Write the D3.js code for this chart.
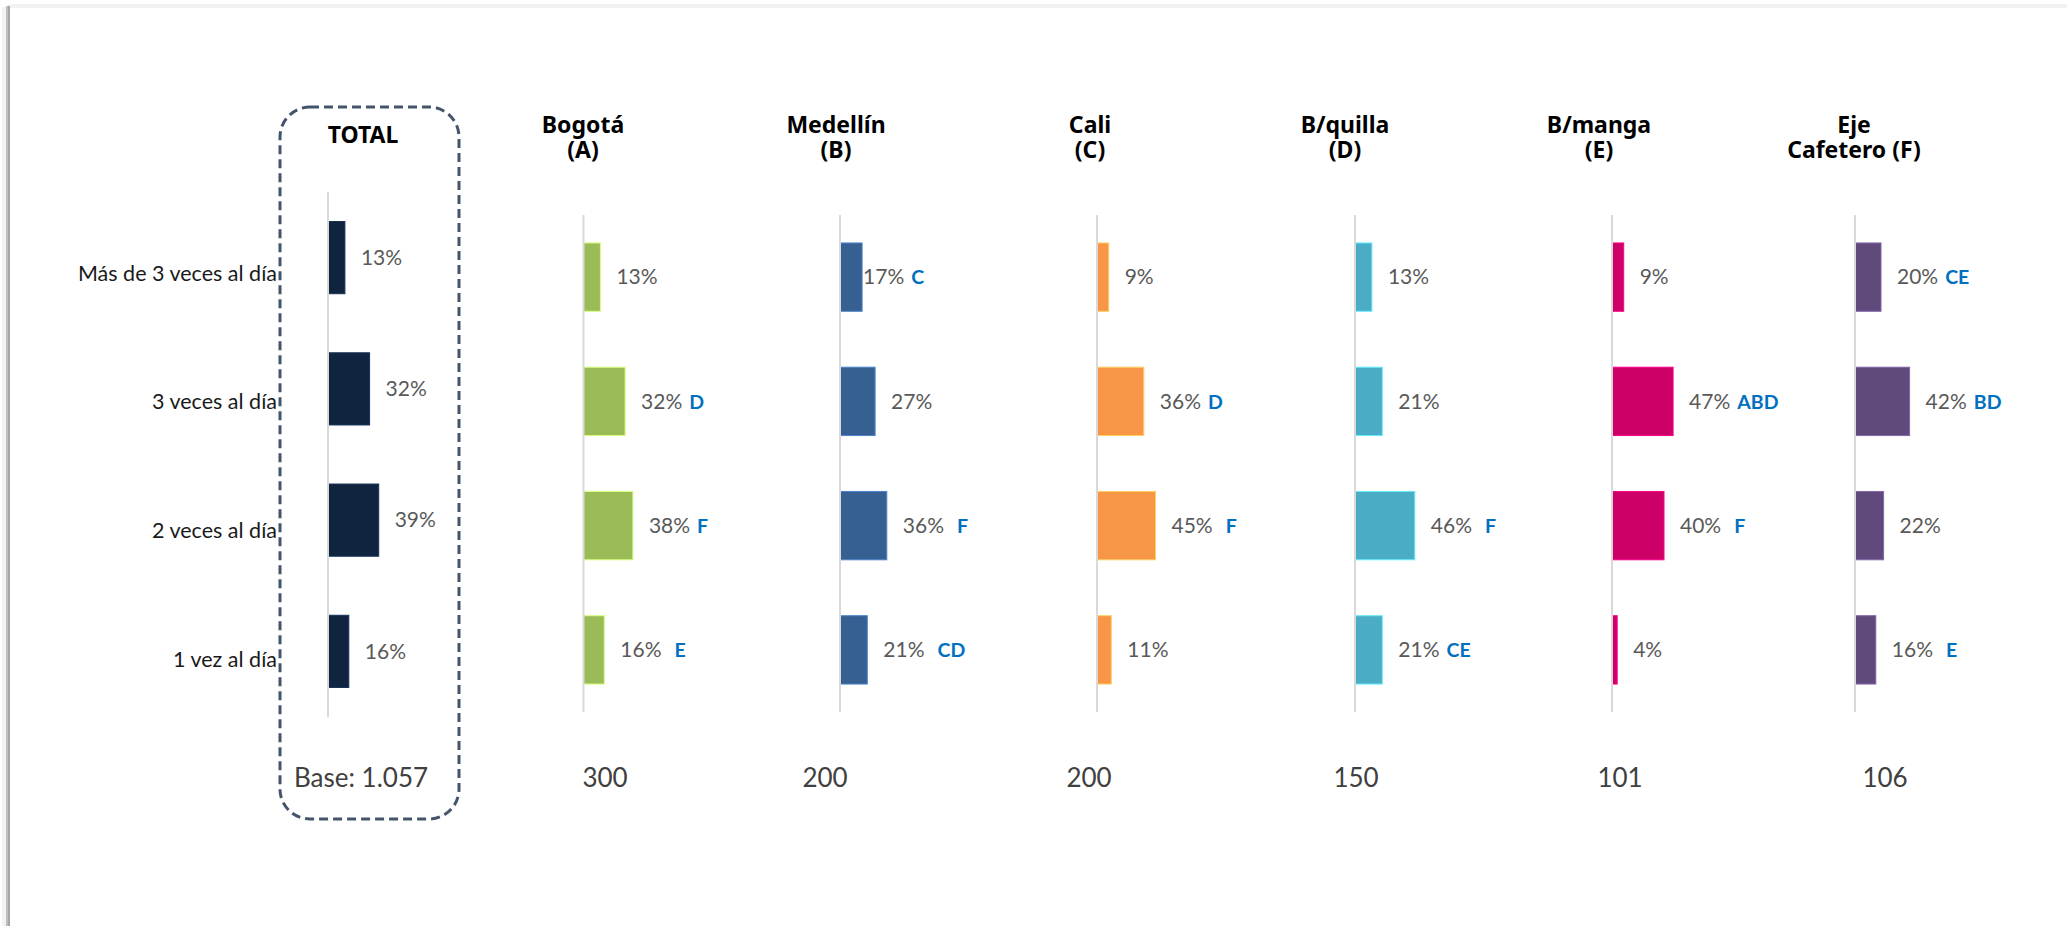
<!DOCTYPE html>
<html>
<head>
<meta charset="utf-8">
<script src="https://cdn.jsdelivr.net/npm/d3@7"></script>
<style>
  html, body { margin: 0; padding: 0; background: #ffffff; }
  svg { display: block; }
  text { white-space: pre; }
</style>
</head>
<body>
<svg id="chart" width="2067" height="926"></svg>
<script>
// ---------------- DATA ----------------
const categories = ["Más de 3 veces al día", "3 veces al día", "2 veces al día", "1 vez al día"];
const panelTitles = [["TOTAL"], ["Bogotá", "(A)"], ["Medellín", "(B)"], ["Cali", "(C)"], ["B/quilla", "(D)"], ["B/manga", "(E)"], ["Eje", "Cafetero (F)"]];
const totalValues    = [13, 32, 39, 16];
const bogotaValues   = [13, 32, 38, 16];
const medellinValues = [17, 27, 36, 21];
const caliValues     = [9, 36, 45, 11];
const bquillaValues  = [13, 21, 46, 21];
const bmangaValues   = [9, 47, 40, 4];
const ejeValues      = [20, 42, 22, 16];
// significance letters (leading spaces = spacing used in the original labels)
const totalLetters    = ["", "", "", ""];
const bogotaLetters   = ["", " D", " F", "  E"];
const medellinLetters = [" C", "", "  F", "  CD"];
const caliLetters     = ["", " D", "  F", ""];
const bquillaLetters  = ["", "", "  F", " CE"];
const bmangaLetters   = ["", " ABD", "  F", ""];
const ejeLetters      = [" CE", " BD", "", "  E"];
const baseLabels = ["Base: 1.057", "300", "200", "200", "150", "101", "106"];
const panelColors = ["#10243f", "#9bbb59", "#376092", "#f79646", "#4bacc6", "#cc0066", "#604a7b"];

// ---------------- LAYOUT ----------------
const W = 2067, H = 926;
const panelAxisX = [328, 583.5, 840, 1097, 1355, 1612, 1855];
const titleX     = [363, 583, 836, 1090, 1345, 1599, 1854];
const baseX      = [361, 605, 825, 1089, 1356, 1620, 1885];
// manual label offset used in the original (Medellín, first row sits against the bar)
const labelGap = (panel, row) => (panel === 2 && row === 0) ? 1 : 16;

const seriesValues = [totalValues, bogotaValues, medellinValues, caliValues, bquillaValues, bmangaValues, ejeValues];
const seriesLetters = [totalLetters, bogotaLetters, medellinLetters, caliLetters, bquillaLetters, bmangaLetters, ejeLetters];

const svg = d3.select("#chart");

// frame
svg.append("rect").attr("x", 8).attr("y", 4).attr("width", W - 8).attr("height", 4).attr("fill", "#f2f2f2");
svg.append("rect").attr("x", 2).attr("y", 7).attr("width", 5).attr("height", H - 7).attr("fill", "#f2f2f2");
svg.append("rect").attr("x", 6).attr("y", 6).attr("width", 4).attr("height", H - 6).attr("fill", "#bfbfbf");
svg.append("rect").attr("x", 8).attr("y", 6).attr("width", 2).attr("height", H - 6).attr("fill", "#a6a6a6");

const x = d3.scaleLinear().domain([0, 100]).range([0, 130]);
const yTotal = d3.scaleBand().domain(categories).range([192, 717]).paddingInner(0.45).paddingOuter(0.225);
const yCity  = d3.scaleBand().domain(categories).range([215, 712]).paddingInner(0.45).paddingOuter(0.225);
const yLabel = d3.scalePoint().domain(categories).range([273, 659]);

// dashed TOTAL box
svg.append("rect")
  .attr("x", 280).attr("y", 107).attr("width", 179).attr("height", 712)
  .attr("rx", 30).attr("ry", 30)
  .attr("fill", "none").attr("stroke", "#44546a").attr("stroke-width", 3)
  .attr("stroke-dasharray", "9,5");

// category labels
svg.append("g").selectAll("text").data(categories).join("text")
  .attr("x", 277).attr("y", d => yLabel(d))
  .attr("dy", "0.35em")
  .attr("text-anchor", "end")
  .attr("font-family", "Lato, 'Open Sans', sans-serif")
  .attr("font-size", 21.5)
  .attr("fill", "#1a1a1a")
  .text(d => d);

panelTitles.forEach((title, i) => {
  const g = svg.append("g").attr("transform", `translate(${panelAxisX[i]},0)`);
  const y = i === 0 ? yTotal : yCity;
  const vals = seriesValues[i];
  const lets = seriesLetters[i];
  const color = panelColors[i];
  const rows = categories.map((c, k) => ({ c, k, v: vals[k], l: lets[k] }));

  // bars
  g.selectAll("rect.bar").data(rows).join("rect")
    .attr("class", "bar")
    .attr("x", 0)
    .attr("y", d => y(d.c))
    .attr("width", d => x(d.v))
    .attr("height", y.bandwidth())
    .attr("fill", color)
    .attr("stroke", d3.color(color).brighter(0.9))
    .attr("stroke-width", 1);

  // axis line
  const [r0, r1] = y.range();
  g.append("line").attr("x1", 0).attr("x2", 0).attr("y1", r0).attr("y2", r1)
    .attr("stroke", "#d9d9d9").attr("stroke-width", 2);

  // value labels
  const lbl = g.selectAll("text.val").data(rows).join("text")
    .attr("class", "val")
    .attr("x", d => x(d.v) + labelGap(i, d.k))
    .attr("y", d => y(d.c) + y.bandwidth() / 2)
    .attr("dy", "0.35em")
    .attr("font-family", "Lato, 'Open Sans', sans-serif")
    .attr("font-size", 21)
    .attr("fill", "#595959");
  lbl.append("tspan").text(d => d.v + "%");
  lbl.filter(d => d.l.trim() !== "").append("tspan")
    .attr("dx", d => { const s = d.l.length - d.l.trimStart().length; return s <= 1 ? 7 : 13; })
    .attr("font-weight", "bold")
    .attr("font-size", 19.5)
    .attr("fill", "#0070c0")
    .text(d => d.l.trim());

  // titles
  const t = svg.append("text")
    .attr("text-anchor", "middle")
    .attr("font-family", "'Noto Sans', 'DejaVu Sans', sans-serif")
    .attr("font-weight", "bold")
    .attr("font-size", 23)
    .attr("fill", "#000000");
  if (title.length === 1) {
    t.append("tspan").attr("x", titleX[i]).attr("y", 143).text(title[0]);
  } else {
    title.forEach((line, j) => {
      t.append("tspan").attr("x", titleX[i]).attr("y", 133 + j * 25).text(line);
    });
  }

  // base labels
  svg.append("text")
    .attr("x", baseX[i]).attr("y", 787)
    .attr("text-anchor", "middle")
    .attr("font-family", "Lato, 'Open Sans', sans-serif")
    .attr("font-size", 26)
    .attr("fill", "#404040")
    .text(baseLabels[i]);
});
</script>
</body>
</html>
